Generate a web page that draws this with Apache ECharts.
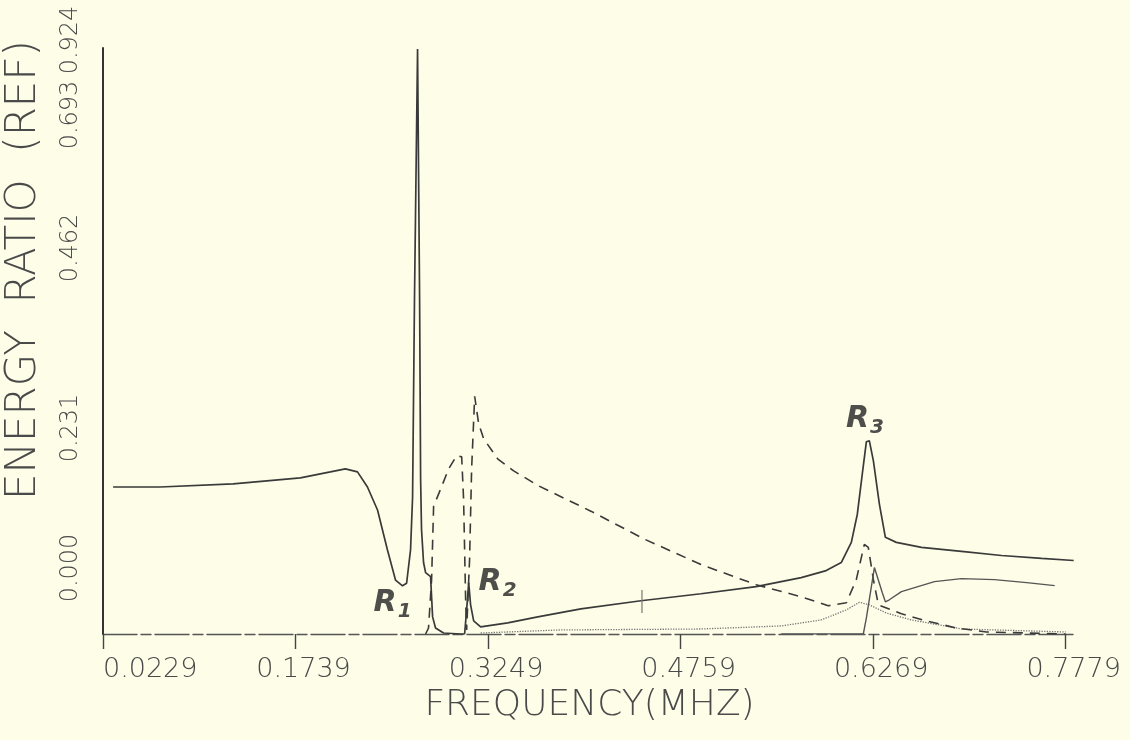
<!DOCTYPE html>
<html>
<head>
<meta charset="utf-8">
<script src="https://cdn.jsdelivr.net/npm/echarts@6/dist/echarts.min.js"></script>
<style>
html,body{margin:0;padding:0;background:#fdfde8;}
#chart{width:1130px;height:740px;}
</style>
</head>
<body>
<div id="chart"></div>
<script>
// ---- data (frequency in MHz, energy ratio) ----
const freqTicks = [0.0229, 0.1739, 0.3249, 0.4759, 0.6269, 0.7779];
const ratioTicks = [0.000, 0.231, 0.462, 0.693, 0.924];

const solidMain = [
  [0.0308,0.2318],[0.0677,0.2318],[0.1250,0.2366],[0.1777,0.2461],[0.2012,0.2556],
  [0.2130,0.2604],[0.2225,0.2556],[0.2303,0.2318],[0.2382,0.1955],[0.2460,0.1325],
  [0.2523,0.0850],[0.2578,0.0760],[0.2610,0.0800],[0.2641,0.1325],[0.2657,0.2160],
  [0.2672,0.5303],[0.2696,0.9224],[0.2712,0.5303],[0.2720,0.2445],[0.2727,0.1651],
  [0.2743,0.1127],[0.2759,0.0968],[0.2798,0.0905],[0.2814,0.0270],[0.2837,0.0095],
  [0.2900,0.0016],[0.3034,0.0000],[0.3065,0.0000],[0.3081,0.0381],[0.3097,0.0810],
  [0.3112,0.0460],[0.3136,0.0206],[0.3191,0.0111],[0.3403,0.0175],[0.3639,0.0270],
  [0.3977,0.0397],[0.4448,0.0524],[0.4919,0.0635],[0.5351,0.0746],[0.5705,0.0889],
  [0.5901,0.1000],[0.6019,0.1127],[0.6098,0.1445],[0.6145,0.1889],[0.6184,0.2524],
  [0.6216,0.3032],[0.6239,0.3048],[0.6271,0.2731],[0.6318,0.2048],[0.6365,0.1524],
  [0.6451,0.1445],[0.6648,0.1365],[0.6962,0.1302],[0.7276,0.1238],[0.7590,0.1191],
  [0.7842,0.1159]
];

const dashedCurve = [
  [0.2759,0.0000],[0.2782,0.0095],[0.2806,0.0857],[0.2822,0.2016],[0.2877,0.2286],
  [0.2940,0.2604],[0.3002,0.2810],[0.3042,0.2794],[0.3057,0.2127],[0.3073,0.0540],
  [0.3081,0.0064],[0.3104,0.1175],[0.3120,0.2604],[0.3144,0.3747],[0.3175,0.3318],
  [0.3214,0.3080],[0.3324,0.2762],[0.3450,0.2572],[0.3647,0.2334],[0.4055,0.1937],
  [0.4479,0.1492],[0.4919,0.1095],[0.5351,0.0778],[0.5705,0.0587],[0.5917,0.0445],
  [0.6059,0.0492],[0.6137,0.0857],[0.6200,0.1413],[0.6231,0.1365],[0.6271,0.0857],
  [0.6310,0.0460],[0.6491,0.0318],[0.6687,0.0206],[0.6923,0.0095],[0.7158,0.0032],
  [0.7779,0.0000]
];

const solidLower = [
  [0.5548,0.0000],[0.6192,0.0000],[0.6216,0.0254],[0.6279,0.1048],[0.6341,0.0651],
  [0.6365,0.0508],[0.6396,0.0540],[0.6491,0.0667],[0.6750,0.0826],[0.6962,0.0873],
  [0.7221,0.0857],[0.7473,0.0810],[0.7693,0.0762]
];

const dottedCurve = [
  [0.3191,0.0016],[0.3819,0.0064],[0.4919,0.0079],[0.5548,0.0127],[0.5862,0.0222],
  [0.6059,0.0380],[0.6161,0.0500],[0.6239,0.0460],[0.6373,0.0330],[0.6569,0.0222],
  [0.6962,0.0079],[0.7779,0.0032]
];

const strayMark = [[0.4456,0.0331],[0.4456,0.0694]];

const resonanceLabels = [
  [0.2500, 0.0480, '1'],
  [0.3324, 0.0810, '2'],
  [0.6205, 0.3380, '3']
];

// ---- styles ----
const FONT = '"DejaVu Sans", "Liberation Sans", sans-serif';
const INK = '#3a3a3a';
const TEXT = '#4a4a4a';
const Y_MAX = 0.924;
// padding (px) that lifts each rotated y tick label above its tick, same order as ratioTicks
const yLabelLift = [132, 119, 186, 159, 16];

const chart = echarts.init(document.getElementById('chart'), null, { renderer: 'canvas' });

function lineSeries(name, data, style) {
  return {
    name, type: 'line', data, showSymbol: false, symbol: 'none',
    smooth: false, animation: false, silent: true,
    lineStyle: Object.assign({ color: INK, width: 1.6 }, style),
    z: 3
  };
}

const mainYAxis = {
  type: 'value', min: 0, max: Y_MAX, position: 'left',
  name: 'ENERGY  RATIO  (REF)', nameLocation: 'middle', nameGap: 58,
  nameTextStyle: { fontFamily: FONT, fontSize: 42, fontWeight: 200, color: TEXT, padding: [0, 0, 0, 142] },
  axisLine: { show: true, lineStyle: { color: '#333', width: 2 } },
  axisTick: { show: false },
  axisLabel: { show: false },
  splitLine: { show: false }
};

// one label-only axis per tick value so each label can be placed on its own
const labelAxes = ratioTicks.map((t, i) => ({
  type: 'value', min: 0, max: Y_MAX, position: 'left', offset: 0,
  axisLine: { show: false }, axisTick: { show: false }, splitLine: { show: false },
  axisLabel: {
    customValues: [t], rotate: 90, margin: 20,
    align: 'center', verticalAlign: 'bottom',
    showMinLabel: true, showMaxLabel: true,
    formatter: v => '{t|' + v.toFixed(3) + '}',
    rich: { t: { fontFamily: FONT, fontSize: 24, fontWeight: 200, color: TEXT, padding: [0, 0, 0, yLabelLift[i]] } }
  }
}));

chart.setOption({
  backgroundColor: '#fdfde8',
  animation: false,
  grid: { left: 103, right: 54, top: 48, bottom: 106, containLabel: false, outerBoundsMode: 'none' },
  xAxis: {
    type: 'value', min: 0.0229, max: 0.786,
    name: 'FREQUENCY(MHZ)', nameLocation: 'middle', nameGap: 54,
    nameTextStyle: { fontFamily: FONT, fontSize: 36, fontWeight: 200, color: TEXT },
    axisLine: { show: true, onZero: false, lineStyle: { color: '#555', width: 1.4, type: [34, 4, 10, 4] } },
    axisTick: { show: true, customValues: freqTicks, length: 15, lineStyle: { color: '#444', width: 1.4 } },
    axisLabel: {
      customValues: freqTicks, margin: 22, alignMinLabel: 'left',
      showMinLabel: true, showMaxLabel: true,
      formatter: v => (Math.abs(v - freqTicks[0]) < 1e-6 ? '{a|' : '{b|') + v.toFixed(4) + '}',
      rich: {
        a: { fontFamily: FONT, fontSize: 27, fontWeight: 200, color: TEXT },
        b: { fontFamily: FONT, fontSize: 27, fontWeight: 200, color: TEXT, padding: [0, 0, 0, 16] }
      }
    },
    splitLine: { show: false }
  },
  yAxis: [mainYAxis].concat(labelAxes),
  series: [
    lineSeries('dotted', dottedCurve, { type: 'dotted', width: 1.3, color: '#777' }),
    lineSeries('dashed', dashedCurve, { type: [10, 7], width: 1.6 }),
    lineSeries('lower', solidLower, { width: 1.4, color: '#555' }),
    lineSeries('main', solidMain, { width: 1.7 }),
    lineSeries('mark', strayMark, { width: 1.2, color: '#777' }),
    {
      name: 'labels', type: 'scatter', data: resonanceLabels, symbolSize: 0,
      silent: true, animation: false, z: 5,
      label: {
        show: true, position: 'inside',
        formatter: p => '{r|R}{s|' + p.data[2] + '}',
        rich: {
          r: { fontFamily: FONT, fontSize: 30, fontStyle: 'italic', fontWeight: 'bold', color: '#222' },
          s: { fontFamily: FONT, fontSize: 20, fontStyle: 'italic', fontWeight: 'bold', color: '#222', padding: [16, 0, 0, 1] }
        }
      }
    }
  ]
});
</script>
</body>
</html>
